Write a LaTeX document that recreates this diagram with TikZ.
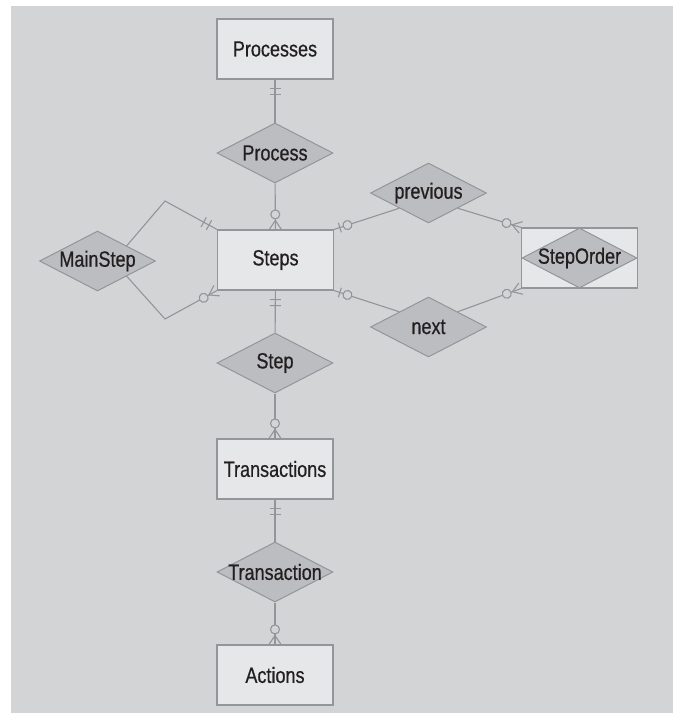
\documentclass[tikz,border=0pt]{standalone}
\usepackage{fontspec}
\setmainfont{Liberation Sans}[FakeStretch=0.82, FakeBold=0.6]
\usepackage{xcolor}
\usetikzlibrary{shapes.geometric, decorations.markings}
\definecolor{panel}{RGB}{211,212,214}
\definecolor{boxfill}{RGB}{230,231,232}
\definecolor{relfill}{RGB}{188,189,192}
\definecolor{edge}{RGB}{147,149,152}
\definecolor{ink}{RGB}{35,31,32}

\tikzset{
  entity/.style={draw=edge, fill=boxfill, line width=1.2pt,
    minimum width=116pt, minimum height=60pt, inner sep=0pt},
  relation/.style={diamond, draw=edge, fill=relfill, line width=1pt,
    minimum width=116pt, minimum height=60pt, inner sep=0pt},
  link/.style={draw=edge, line width=1.1pt},
  % exactly one
  one end/.style={link, postaction={decorate, decoration={markings,
    mark=at position -15pt with {\draw[link] (0pt,-5.5pt) -- (0pt,5.5pt);},
    mark=at position -9pt with {\draw[link] (0pt,-5.5pt) -- (0pt,5.5pt);}}}},
  % zero or one
  opt end/.style={link, postaction={decorate, decoration={markings,
    mark=at position -14pt with {\draw[link, fill=panel] (0pt,0pt) circle (4.5pt);},
    mark=at position -6pt with {\draw[link] (0pt,-5pt) -- (0pt,5pt);}}}},
  % zero or many
  many end/.style={link, postaction={decorate, decoration={markings,
    mark=at position -15pt with {\draw[link, fill=panel] (0pt,0pt) circle (4.5pt);},
    mark=at position -9pt with {\draw[link] (9pt,6pt) -- (0pt,0pt) -- (9pt,-6pt);}}}},
}

\begin{document}
\begin{tikzpicture}[x=1pt, y=-1pt, font=\fontsize{22}{26}\selectfont, text=ink]
  \useasboundingbox (0,0) rectangle (678,713);
  \fill[panel] (11,6) rectangle (673,713);

  % entities
  \node[entity] (processes) at (275,49) {Processes};
  \node[entity] (steps) at (275.5,260) {Steps};
  \node[entity] (transactions) at (275,469) {Transactions};
  \node[entity] (actions) at (275,675) {Actions};
  \node[entity] (order) at (579.5,258) {};

  % relationships
  \node[relation, label={center:Process}] (process) at (275,153) {};
  \node[relation, label={center:MainStep}] (main) at (97.5,261) {};
  \node[relation, label={center:previous}] (prev) at (428.5,193) {};
  \node[relation, label={center:next}] (next) at (428.5,327) {};
  \node[relation, label={center:Step}] (step) at (275,363) {};
  \node[relation, label={center:Transaction}] (trans) at (275,572) {};
  \node[relation, minimum width=115pt, label={center:StepOrder}] (orderrel) at (order) {};

  \coordinate (mainup) at (165,201);
  \coordinate (maindown) at (165,319);

  % connectors
  \draw[one end] (process) -- (processes);
  \draw[many end] (process) -- (steps);
  \draw[one end] (main.north east) -- (mainup) -- (steps.north west);
  \draw[many end] (main.south east) -- (maindown) -- (steps.south west);
  \draw[opt end] (prev.south west) -- (steps.north east);
  \draw[many end] (prev.south east) -- (order.north west);
  \draw[opt end] (next.north west) -- (steps.south east);
  \draw[many end] (next.north east) -- (order.south west);
  \draw[one end] (step) -- (steps);
  \draw[many end] (step) -- (transactions);
  \draw[one end] (trans) -- (transactions);
  \draw[many end] (trans) -- (actions);
\end{tikzpicture}
\end{document}
